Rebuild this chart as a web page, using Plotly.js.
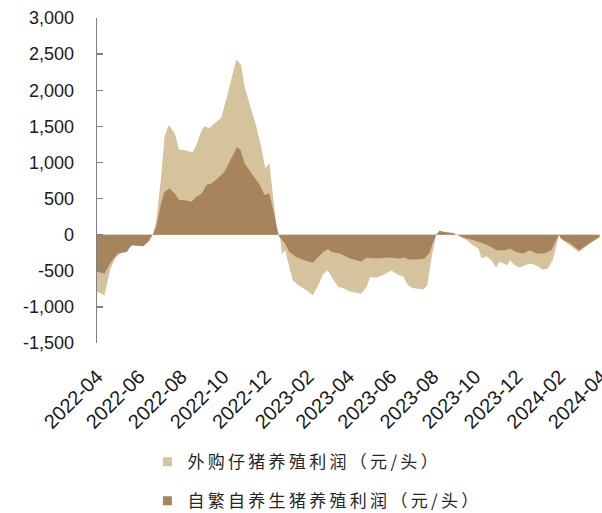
<!DOCTYPE html>
<html><head><meta charset="utf-8">
<script src="https://cdn.plot.ly/plotly-3.0.1.min.js"></script>
<style>html,body{margin:0;padding:0;background:#fff;}#chart{width:602px;height:513px;}</style>
</head><body><div id="chart"></div>
<script>
// 外购仔猪养殖利润（元/头）
const purchasedDates = ['2022-04-01','2022-04-12','2022-04-20','2022-04-27','2022-05-06','2022-05-14','2022-05-21','2022-06-09','2022-06-16','2022-06-21','2022-06-26','2022-07-03','2022-07-08','2022-07-14','2022-07-23','2022-07-29','2022-08-04','2022-08-18','2022-08-23','2022-08-31','2022-09-04','2022-09-11','2022-09-19','2022-09-28','2022-10-08','2022-10-20','2022-10-27','2022-11-01','2022-11-08','2022-11-18','2022-11-25','2022-12-01','2022-12-07','2022-12-12','2022-12-17','2022-12-21','2022-12-23','2022-12-25','2022-12-30','2023-01-03','2023-01-10','2023-01-18','2023-01-30','2023-02-08','2023-02-16','2023-02-23','2023-03-02','2023-03-09','2023-03-17','2023-03-24','2023-04-05','2023-04-19','2023-04-27','2023-05-02','2023-05-11','2023-05-21','2023-06-02','2023-06-12','2023-06-19','2023-06-26','2023-07-03','2023-07-18','2023-07-24','2023-07-30','2023-08-04','2023-08-06','2023-08-11','2023-08-18','2023-08-30','2023-09-05','2023-09-19','2023-09-28','2023-10-06','2023-10-11','2023-10-18','2023-10-25','2023-11-01','2023-11-06','2023-11-11','2023-11-17','2023-11-21','2023-11-28','2023-12-05','2023-12-12','2023-12-20','2023-12-29','2024-01-08','2024-01-15','2024-01-22','2024-01-27','2024-01-31','2024-02-06','2024-02-16','2024-02-29','2024-03-16','2024-03-30'];
const purchasedProfit = [-790,-840,-490,-330,-250,-215,-150,-120,-90,0,200,800,1360,1520,1400,1175,1175,1140,1240,1450,1500,1475,1545,1615,1960,2430,2350,2050,1820,1500,1220,920,990,525,130,0,-60,-265,-215,-375,-630,-700,-770,-840,-700,-540,-495,-610,-725,-740,-795,-815,-725,-585,-595,-560,-495,-560,-575,-700,-740,-760,-700,-330,-75,0,60,25,30,0,-75,-145,-190,-330,-300,-355,-455,-375,-400,-425,-355,-425,-455,-425,-400,-425,-485,-470,-355,-170,0,-80,-145,-240,-120,-40];

// 自繁自养生猪养殖利润（元/头）
const selfBredDates = ['2022-04-01','2022-04-12','2022-04-20','2022-05-01','2022-05-14','2022-05-21','2022-06-07','2022-06-14','2022-06-19','2022-06-21','2022-06-26','2022-07-03','2022-07-08','2022-07-15','2022-07-23','2022-07-29','2022-08-06','2022-08-16','2022-08-23','2022-08-31','2022-09-07','2022-09-14','2022-09-23','2022-10-03','2022-10-13','2022-10-21','2022-10-26','2022-11-01','2022-11-11','2022-11-23','2022-11-30','2022-12-07','2022-12-15','2022-12-20','2022-12-22','2022-12-30','2023-01-05','2023-01-15','2023-01-27','2023-02-08','2023-02-16','2023-02-23','2023-03-02','2023-03-07','2023-03-19','2023-04-03','2023-04-19','2023-04-27','2023-05-11','2023-05-31','2023-06-12','2023-06-22','2023-06-26','2023-07-08','2023-07-20','2023-07-27','2023-08-01','2023-08-04','2023-08-06','2023-08-11','2023-08-30','2023-09-05','2023-09-14','2023-09-28','2023-10-13','2023-10-25','2023-11-01','2023-11-14','2023-11-21','2023-11-30','2023-12-10','2023-12-20','2023-12-29','2024-01-10','2024-01-20','2024-01-25','2024-01-31','2024-02-03','2024-02-16','2024-02-29','2024-03-16','2024-03-30'];
const selfBredProfit = [-515,-540,-400,-260,-240,-145,-160,-100,-20,0,110,435,595,640,570,480,480,455,525,570,690,710,780,870,1060,1210,1175,990,850,690,550,570,245,0,-35,-125,-240,-310,-355,-390,-310,-240,-200,-240,-260,-330,-370,-320,-330,-315,-330,-315,-345,-345,-330,-260,-120,-30,0,50,20,0,-40,-75,-120,-170,-215,-215,-190,-240,-260,-215,-260,-260,-215,-120,0,-55,-120,-215,-120,-30];

const seriesNames = ['外购仔猪养殖利润（元/头）','自繁自养生猪养殖利润（元/头）'];
const seriesColors = ['#D5C39D','#A7845C'];

const xTickVals = ['2022-04-01','2022-06-01','2022-08-01','2022-10-01','2022-12-01','2023-02-01','2023-04-01','2023-06-01','2023-08-01','2023-10-01','2023-12-01','2024-02-01','2024-04-01'];
const xTickText = ['2022-04','2022-06','2022-08','2022-10','2022-12','2023-02','2023-04','2023-06','2023-08','2023-10','2023-12','2024-02','2024-04'];
const yTickVals = [-1500,-1000,-500,0,500,1000,1500,2000,2500,3000];
const yTickText = ['-1,500','-1,000','-500','0','500','1,000','1,500','2,000','2,500','3,000'];

const xRange = ['2022-04-01','2024-04-01 01:00'];

const legendFont = {family:'"Noto Sans CJK SC", "Noto Sans", sans-serif', size:17, color:'#262626'};
function spaced(t){ return '<span style="letter-spacing:3.3px">' + t + '</span>'; }

const traces = [
  {x: purchasedDates, y: purchasedProfit, type:'scatter', mode:'lines', fill:'tozeroy',
   fillcolor: seriesColors[0], line:{width:0, color: seriesColors[0]}, showlegend:false, hoverinfo:'skip'},
  {x: selfBredDates, y: selfBredProfit, type:'scatter', mode:'lines', fill:'tozeroy',
   fillcolor: seriesColors[1], line:{width:0, color: seriesColors[1]}, showlegend:false, hoverinfo:'skip'},
  {x:[null], y:[null], type:'scatter', mode:'markers', name: spaced(seriesNames[0]),
   marker:{symbol:'square', size:9, color: seriesColors[0]}, legend:'legend'},
  {x:[null], y:[null], type:'scatter', mode:'markers', name: spaced(seriesNames[1]),
   marker:{symbol:'square', size:9, color: seriesColors[1]}, legend:'legend2'}
];

const yTickFont = {family:'"Liberation Sans", Arial, sans-serif', size:18, color:'#1a1a1a'};
const xTickFont = {family:'"Liberation Sans", Arial, sans-serif', size:20, color:'#1a1a1a'};
const layout = {
  width:602, height:513,
  margin:{l:97, r:1, t:18, b:170, autoexpand:false},
  paper_bgcolor:'#fff', plot_bgcolor:'rgba(0,0,0,0)',
  showlegend:true,
  xaxis:{type:'date', range:xRange, tickmode:'array', tickvals:xTickVals, ticktext:xTickText, automargin:false,
    tickangle:-45, showgrid:false, zeroline:false, showline:false, ticks:'', tickfont:xTickFont,
    ticklabelstandoff:17, ticklabeloverflow:'allow', fixedrange:true},
  xaxis2:{type:'date', overlaying:'x', matches:'x', range:xRange, anchor:'free', position:1/3, side:'bottom', automargin:false,
    tickmode:'array', tickvals:xTickVals, showticklabels:false, showgrid:false, zeroline:false,
    showline:true, linecolor:'#404040', linewidth:1.5, ticks:'inside', ticklen:6, tickwidth:1.3, tickcolor:'#404040'},
  yaxis:{range:[-1500,3000], tickmode:'array', tickvals:yTickVals, ticktext:yTickText, showgrid:false, zeroline:false, automargin:false,
    showline:true, linecolor:'#808080', linewidth:1.3, ticks:'inside', ticklen:6, tickwidth:1.3, tickcolor:'#808080',
    tickfont:yTickFont, ticklabelstandoff:18},
  legend:{x:0.1, xref:'paper', y:0.099, yref:'container', xanchor:'left', yanchor:'middle', orientation:'v', font:legendFont, bgcolor:'rgba(0,0,0,0)', itemsizing:'trace'},
  legend2:{x:0.1, xref:'paper', y:0.023, yref:'container', xanchor:'left', yanchor:'middle', orientation:'v', font:legendFont, bgcolor:'rgba(0,0,0,0)', itemsizing:'trace'}
};
Plotly.newPlot('chart', traces, layout, {staticPlot:true, displayModeBar:false});
</script></body></html>
